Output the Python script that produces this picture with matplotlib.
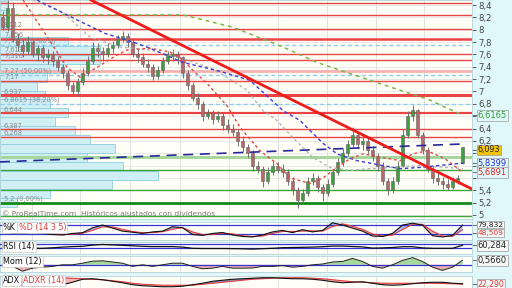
import matplotlib
matplotlib.use("Agg")
import matplotlib.pyplot as plt
import matplotlib.transforms as mtransforms
import numpy as np

# --- ローソク足 (日足, 93本) ---
opens = [8.20, 8.05, 8.35, 7.85, 7.75, 7.65, 7.80, 7.60, 7.70, 7.55,
         7.60, 7.50, 7.40, 7.30, 7.10, 7.00, 7.15, 7.30, 7.50, 7.70,
         7.65, 7.60, 7.70, 7.75, 7.85, 7.90, 7.80, 7.60, 7.55, 7.45,
         7.40, 7.25, 7.35, 7.50, 7.58, 7.60, 7.55, 7.30, 7.10, 6.90,
         6.80, 6.60, 6.65, 6.55, 6.60, 6.45, 6.40, 6.35, 6.20, 6.10,
         6.00, 5.80, 5.75, 5.55, 5.70, 5.80, 5.75, 5.70, 5.55, 5.40,
         5.25, 5.35, 5.55, 5.60, 5.45, 5.35, 5.50, 5.70, 5.85, 6.00,
         6.15, 6.30, 6.15, 6.20, 6.05, 5.95, 5.80, 5.55, 5.40, 5.55,
         5.80, 6.30, 6.60, 6.70, 6.30, 6.05, 5.75, 5.60, 5.55, 5.50,
         5.45, 5.55, 5.84]
highs = [8.30, 8.48, 8.45, 7.95, 7.85, 7.90, 7.85, 7.75, 7.75, 7.68,
         7.65, 7.58, 7.45, 7.35, 7.15, 7.22, 7.38, 7.58, 7.80, 7.78,
         7.72, 7.78, 7.82, 7.92, 7.98, 7.95, 7.85, 7.68, 7.62, 7.52,
         7.45, 7.42, 7.55, 7.66, 7.68, 7.65, 7.58, 7.35, 7.15, 6.98,
         6.85, 6.72, 6.70, 6.68, 6.65, 6.55, 6.48, 6.40, 6.28, 6.15,
         6.05, 5.88, 5.80, 5.78, 5.88, 5.85, 5.82, 5.75, 5.62, 5.45,
         5.42, 5.62, 5.68, 5.65, 5.50, 5.58, 5.75, 5.92, 6.08, 6.22,
         6.42, 6.35, 6.28, 6.25, 6.12, 6.00, 5.85, 5.60, 5.62, 5.88,
         6.40, 6.68, 6.78, 6.72, 6.35, 6.10, 5.80, 5.68, 5.62, 5.58,
         5.62, 5.65, 6.10]
lows = [8.00, 7.98, 7.80, 7.65, 7.55, 7.60, 7.55, 7.50, 7.48, 7.45,
        7.42, 7.33, 7.22, 7.02, 6.92, 6.95, 7.10, 7.25, 7.45, 7.55,
        7.50, 7.55, 7.62, 7.70, 7.80, 7.72, 7.55, 7.48, 7.40, 7.32,
        7.18, 7.20, 7.30, 7.45, 7.50, 7.45, 7.22, 7.02, 6.85, 6.72,
        6.52, 6.55, 6.48, 6.50, 6.38, 6.33, 6.28, 6.12, 6.02, 5.92,
        5.72, 5.68, 5.45, 5.50, 5.65, 5.68, 5.62, 5.48, 5.32, 5.12,
        5.18, 5.30, 5.48, 5.38, 5.22, 5.30, 5.45, 5.65, 5.80, 5.95,
        6.10, 6.08, 6.05, 5.98, 5.88, 5.72, 5.48, 5.32, 5.35, 5.50,
        5.78, 6.25, 6.52, 6.25, 5.98, 5.70, 5.52, 5.48, 5.42, 5.40,
        5.42, 5.50, 5.82]
closes = [8.05, 8.35, 7.85, 7.75, 7.65, 7.80, 7.60, 7.70, 7.55, 7.60,
          7.50, 7.40, 7.30, 7.10, 7.00, 7.15, 7.30, 7.50, 7.70, 7.65,
          7.60, 7.70, 7.75, 7.85, 7.90, 7.80, 7.60, 7.55, 7.45, 7.40,
          7.25, 7.35, 7.50, 7.60, 7.60, 7.55, 7.30, 7.10, 6.90, 6.80,
          6.60, 6.65, 6.55, 6.60, 6.45, 6.40, 6.35, 6.20, 6.10, 6.00,
          5.80, 5.75, 5.55, 5.70, 5.80, 5.75, 5.70, 5.55, 5.40, 5.25,
          5.35, 5.55, 5.60, 5.45, 5.35, 5.50, 5.70, 5.85, 6.00, 6.15,
          6.30, 6.15, 6.20, 6.05, 5.95, 5.80, 5.55, 5.40, 5.55, 5.80,
          6.30, 6.60, 6.70, 6.30, 6.05, 5.75, 5.60, 5.55, 5.50, 5.45,
          5.55, 5.60, 6.093]

# --- 移動平均 (ローソク足インデックス, 価格) ---
ma_red_x = [4.1, 8.1, 12.9, 15.5, 18.9, 22.9, 24.9, 29.5, 33.5, 36.1, 38.1, 40.9, 44.9,
            47.5, 51.5, 54.9, 57.5, 61.5, 64.1, 66.9, 69.5, 72.1, 76.1, 79.5, 82.1,
            84.9, 88.5, 92.1]
ma_red_y = [8.48, 7.99, 7.39, 7.23, 7.39, 7.59, 7.67, 7.70, 7.64, 7.51, 7.34, 7.13, 6.77,
            6.42, 6.04, 5.83, 5.60, 5.51, 5.60, 5.77, 5.91, 5.99, 5.93, 5.88, 5.99,
            6.04, 5.91, 5.6891]
ma_gray_x = [6.1, 11.9, 17.5, 23.5, 29.5, 35.5, 41.5, 44.9, 48.9, 52.1, 54.9, 58.1, 62.1,
             65.5, 69.5, 73.5, 77.5, 83.5, 92.1]
ma_gray_y = [8.48, 8.29, 7.88, 7.72, 7.67, 7.55, 7.38, 7.23, 7.02, 6.69, 6.53, 6.25, 5.93,
             5.77, 5.72, 5.75, 5.77, 5.80, 5.75]
ma_blue_x = [6.9, 14.9, 20.5, 26.1, 29.5, 36.1, 42.9, 49.5, 56.1, 59.5, 64.1, 66.9, 70.9,
             76.1, 79.5, 83.5, 92.1]
ma_blue_y = [8.48, 8.16, 7.94, 7.80, 7.70, 7.47, 7.34, 7.18, 6.69, 6.53, 6.16, 5.99, 5.88,
             5.80, 5.75, 5.77, 5.8399]
ma_green_x = [-0.5, 36.1, 46.1, 56.1, 62.9, 69.5, 79.5, 85.5, 88.9, 92.1]
ma_green_y = [8.24, 8.24, 8.04, 7.72, 7.47, 7.29, 7.02, 6.86, 6.73, 6.6165]
navy_x = [-0.5, 92.1]
navy_y = [5.86, 6.15]

# 下降トレンドライン
trend_x = [17.7, 93.9]
trend_y = [8.48, 5.42]

# 水平線 (サポート / レジスタンス)
red_levels = [8.44, 8.24, 8.012, 7.856, 7.613, 7.516, 7.17, 6.937, 6.644, 6.387, 6.268]
red_widths = [1.0, 1.0, 1.0, 1.8, 1.0, 1.0, 1.0, 2.2, 1.6, 1.0, 1.0]
pink_levels = [7.33]
fibo_levels = [7.756, 7.27, 6.8015]
green_levels = [5.94, 5.73, 5.41, 5.2, 4.98]
level_labels = {8.012: "8,012", 7.856: "7,856", 7.756: "7,756 (61,80%)", 7.613: "7,613",
                7.516: "7,516", 7.27: "7,27 (50,00%)", 7.17: "7,17", 6.937: "6,937",
                6.8015: "6,8015 (38,20%)", 6.644: "6,644", 6.387: "6,387", 6.268: "6,268",
                5.2: "5,2 (0,00%)"}

# 価格帯別出来高
vp_bottom = [5.13, 5.275, 5.42, 5.565, 5.71, 5.855, 6.0, 6.145, 6.29, 6.435, 6.58, 6.725,
             6.87, 7.015, 7.16, 7.305, 7.45, 7.595, 7.74, 7.885, 8.03, 8.175, 8.32]
vp_volume = [17, 50, 112, 158, 123, 87, 115, 90, 75, 55, 68, 50,
             45, 37, 47, 62, 100, 100, 68, 12, 7, 7, 7]

# 月の区切り
month_starts = [5.9, 15.5, 25.5, 35.5, 45.3, 55.1, 64.9, 74.7, 84.3]

# --- 指標 (2本おき) ---
ind_x = list(range(0, 93, 2))
stoch_k = [35, 25, 25, 35, 25, 18, 15, 25, 30, 62, 80, 60, 40, 33, 25, 35, 40, 69, 62, 18,
           12, 25, 31, 15, 5, 2, 15, 35, 45, 30, 50, 35, 45, 95, 80, 60, 40, 8, 5, 25,
           80, 92, 80, 10, 2, 12, 79.8]
stoch_d = [40, 30, 25, 30, 30, 22, 17, 20, 26, 45, 68, 68, 52, 38, 30, 30, 36, 52, 64, 35,
           18, 18, 26, 22, 10, 5, 8, 25, 38, 38, 40, 42, 40, 70, 88, 72, 52, 22, 8, 14,
           50, 85, 85, 40, 8, 6, 48.509]
rsi = [40, 32, 30, 30, 30, 35, 42, 47, 50, 62, 68, 64, 60, 55, 50, 47, 47, 47, 42, 30,
       28, 28, 28, 27, 25, 22, 26, 30, 36, 38, 40, 42, 46, 52, 52, 48, 44, 32, 34, 38,
       46, 46, 34, 30, 30, 30, 60.284]
mom = [0, -0.2, -0.8, -0.42, -0.3, -0.2, 0, 0, 0.2, 0.45, 0.5, 0.35, 0.2, -0.2, 0, -0.2,
       0, 0.2, 0.2, -0.2, -0.5, -0.42, -0.2, -0.42, -0.42, -0.4, -0.2, -0.2, -0.1, -0.3,
       -0.2, 0, 0.1, 0.35, 0.42, 0.8, 0.42, -0.2, -0.42, 0.0, 0.55, 0.9, 0.42, -0.3, -0.7,
       -0.3, 0.566]
adx = [21, 20.5, 20, 19, 19, 19.5, 21, 26, 32, 33, 31, 28, 25, 21, 19, 18, 17, 17, 18, 21,
       24, 28, 30, 32, 33, 34, 35, 35, 34, 33, 33, 32, 30, 27, 25, 26, 27, 24, 21, 20,
       21, 23, 25, 26, 26, 24, 23]
adxr = [24, 25, 27, 30, 33, 35, 35, 34, 33, 32, 31, 29, 27, 24, 22, 21, 20, 20, 20, 20,
        22, 24, 26, 28, 30, 32, 33, 34, 35, 35, 35, 34, 33, 31, 29, 27, 26, 25, 24, 24,
        24, 24, 24, 24, 23.5, 23, 22.29]

# --- 描画 ---
W, H = 512, 288
PLOT_W = 472
BG = "#fffff8"
PANEL_BG = "#e0f8f9"
BLUE = "#3434d4"
RED = "#e23a3a"
XLIM = (-0.5, 93.9)

fig = plt.figure(figsize=(W / 100, H / 100), dpi=100, facecolor=PANEL_BG)


def add_panel(top, bottom):
    ax = fig.add_axes([0, 1 - bottom / H, PLOT_W / W, (bottom - top) / H], facecolor=BG)
    ax.set_xlim(*XLIM)
    ax.set_xticks([])
    for s in ax.spines.values():
        s.set_color("#b4d4d8")
        s.set_linewidth(0.6)
    for m in month_starts:
        ax.axvline(m, color="#e2e2e2", lw=0.7, zorder=0)
    return ax


def panel_label(ax, parts, y=0.93):
    x = 0.006
    for text, color in parts:
        t = ax.text(x, y, text, transform=ax.transAxes, fontsize=5.8, color=color,
                    va="top", ha="left", zorder=10,
                    bbox=dict(boxstyle="square,pad=0.15", fc="white", ec="#c8c8c8", lw=0.5))
        fig.canvas.draw()
        bb = t.get_window_extent().transformed(ax.transAxes.inverted())
        x = bb.x1 + 0.006


def value_box(ax, y, text, color, fc="#f6f6f6", fs=6.0, pad=0.12):
    tr = mtransforms.blended_transform_factory(ax.transAxes, ax.transData)
    ax.plot([1.0, 1.008], [y, y], color="#555555", lw=0.6, transform=tr, clip_on=False)
    ax.text(1.012, y, text, transform=tr, fontsize=fs, color=color, va="center", ha="left",
            zorder=20, clip_on=False,
            bbox=dict(boxstyle=f"square,pad={pad}", fc=fc, ec="#9a9a9a", lw=0.5))


# メインチャート
ax = add_panel(0, 219)
ax.set_ylim(4.935, 8.481)
yt = np.round(np.arange(5.0, 8.41, 0.2), 1)
covered = {6.6, 6.0, 5.8, 5.6}   # 最終値ラベルに隠れる目盛
ax.set_yticks(yt)
ax.set_yticklabels(["" if v in covered else f"{v:g}".replace(".", ",") for v in yt])
ax.yaxis.tick_right()
ax.tick_params(axis="y", length=3, width=0.6, pad=1.5, labelsize=6.1, colors="#444444")
ax.grid(axis="y", color="#e4e4e4", lw=0.6, zorder=0)
ax.set_axisbelow(True)

# 価格帯別出来高
vmax = max(vp_volume)
ax.barh(vp_bottom, [v / vmax * 31.6 for v in vp_volume], height=0.145, left=-0.5,
        align="edge", color="#cfeff5", edgecolor="#8fcfdb", lw=0.6, zorder=1)

for lv, lw in zip(red_levels, red_widths):
    ax.axhline(lv, color="#ea4444", lw=lw, zorder=2)
for lv in pink_levels:
    ax.axhline(lv, color="#f6b2b2", lw=2.0, zorder=2)
for lv in fibo_levels:
    ax.axhline(lv, color="#8dcdf0", lw=1.0, ls=(0, (3, 2)), zorder=2)
green_styles = {5.94: ("#a6d89e", 2.2), 5.2: ("#138a1a", 2.0)}
for lv in green_levels:
    c, lw = green_styles.get(lv, ("#3aa83a", 1.0))
    ax.axhline(lv, color=c, lw=lw, zorder=2)

for lv, txt in level_labels.items():
    ax.text(0.3, lv + 0.01, txt, fontsize=4.8, color="#8a8a8a", va="bottom", ha="left", zorder=3)

# ローソク足
for i, (o, h, l, c) in enumerate(zip(opens, highs, lows, closes)):
    up = c >= o
    ax.vlines(i, l, h, color="#707070", lw=0.7, zorder=4)
    ax.bar(i, max(abs(c - o), 0.012), bottom=min(o, c), width=0.62,
           color="#3f9e3f" if up else "#b26a6a", edgecolor="#606060", lw=0.4, zorder=5)

# 移動平均・トレンドライン
ax.plot(ma_green_x, ma_green_y, color="#7ab648", lw=1.1, ls=(0, (2.5, 2.5)), zorder=6)
ax.plot(ma_gray_x, ma_gray_y, color="#b4b4b4", lw=1.0, ls=(0, (2, 2)), zorder=6)
ax.plot(ma_blue_x, ma_blue_y, color="#3c3cd0", lw=1.0, ls=(0, (2.5, 2)), zorder=6)
ax.plot(ma_red_x, ma_red_y, color="#e04848", lw=1.0, ls=(0, (2, 2)), zorder=6)
ax.plot(navy_x, navy_y, color="#28289a", lw=1.2, ls=(0, (6, 4)), zorder=6)
ax.plot(trend_x, trend_y, color="#f01c1c", lw=2.0, zorder=7, clip_on=True)

ax.text(0.0, 5.03, "© ProRealTime.com  Históricos ajustados con dividendos", fontsize=5.4,
        color="#7a7a7a", va="center", ha="left", zorder=8)

value_box(ax, 6.6165, "6,6165", "#3a9a3a", fc=PANEL_BG)
value_box(ax, 6.055, "6,093", "#222222", fc="#f3c20c", fs=5.8, pad=0.05)
value_box(ax, 5.8399, "5,8399", "#2a2ad0", fc=PANEL_BG)
value_box(ax, 5.6891, "5,6891", "#e02424", fc=PANEL_BG)

# ストキャスティクス
ax1 = add_panel(222, 240)
ax1.set_ylim(-18, 100)
ax1.set_yticks([])
k = np.array(stoch_k)
d = np.array(stoch_d)
ax1.fill_between(ind_x, k, d, where=k >= d, interpolate=True, color="#aab4f2", lw=0, zorder=2)
ax1.fill_between(ind_x, k, d, where=k < d, interpolate=True, color="#f4b0b0", lw=0, zorder=2)
for lv in (80, 20):
    ax1.axhline(lv, color=BLUE, lw=0.9, zorder=3)
ax1.plot(ind_x, d, color=RED, lw=0.8, zorder=4)
ax1.plot(ind_x, k, color="#111111", lw=0.8, zorder=5)
panel_label(ax1, [("%K", "#111111"), ("%D (14 3 5)", RED)])
value_box(ax1, 83, "79,832", "#222222", fs=5.4, pad=0.08)
value_box(ax1, 27.5, "48,509", RED, fs=5.4, pad=0.08)

# RSI
ax2 = add_panel(242, 254)
ax2.set_ylim(-27, 93)
ax2.set_yticks([])
for lv in (70, 30):
    ax2.axhline(lv, color=BLUE, lw=0.9, zorder=3)
ax2.plot(ind_x, rsi, color="#111111", lw=0.9, zorder=5)
panel_label(ax2, [("RSI (14)", "#111111")], y=0.98)
value_box(ax2, 60.284, "60,284", "#222222")

# モメンタム
ax3 = add_panel(256, 272)
ax3.set_ylim(-0.9, 1.1)
ax3.set_yticks([])
m = np.array(mom)
ax3.fill_between(ind_x, m, 0, where=m >= 0, interpolate=True, color="#a6d89c", lw=0, zorder=2)
ax3.fill_between(ind_x, m, 0, where=m < 0, interpolate=True, color="#e6b0ac", lw=0, zorder=2)
ax3.axhline(0, color=BLUE, lw=0.9, zorder=3)
ax3.plot(ind_x, m, color="#222222", lw=0.7, zorder=5)
panel_label(ax3, [("Mom (12)", "#111111")], y=0.95)
value_box(ax3, 0.566, "0,5660", "#222222")

# ADX
ax4 = add_panel(276, 288)
ax4.set_ylim(14.5, 38.5)
ax4.set_yticks([])
a = np.array(adx)
ar = np.array(adxr)
ax4.fill_between(ind_x, a, ar, where=a >= ar, interpolate=True, color="#8c98c8", lw=0, zorder=2)
ax4.fill_between(ind_x, a, ar, where=a < ar, interpolate=True, color="#f2b4b4", lw=0, zorder=2)
ax4.plot(ind_x, ar, color=RED, lw=0.8, zorder=4)
ax4.plot(ind_x, a, color="#111111", lw=0.8, zorder=5)
panel_label(ax4, [("ADX", "#111111"), ("ADXR (14)", RED)], y=0.98)
value_box(ax4, 22.29, "22,290", RED, fs=5.6)

fig.savefig("out.png", dpi=100, facecolor=PANEL_BG)
